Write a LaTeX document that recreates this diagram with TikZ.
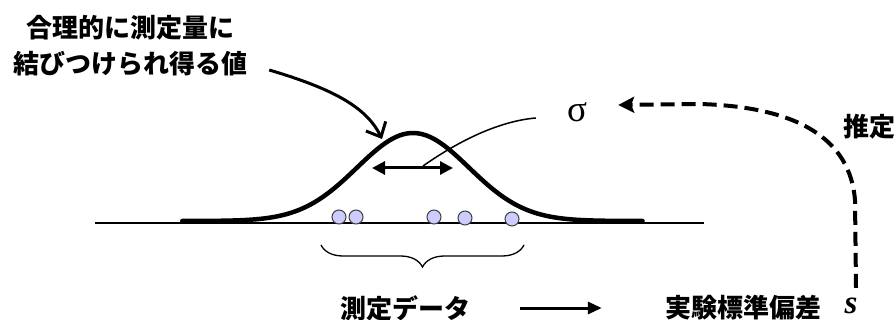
\documentclass[tikz,border=0pt]{standalone}
\usepackage{fontspec}
\newfontfamily\jpfont{Noto Sans CJK JP}
\newfontfamily\greekfont{Liberation Serif}
\usepackage{xcolor}
\definecolor{dotfill}{RGB}{204,204,255}
\usepackage{tikz}
\usetikzlibrary{arrows.meta,decorations.pathreplacing}

\begin{document}
\begin{tikzpicture}[
      x=1pt,y=-1pt,
      jp/.style={font=\fontsize{26}{36}\selectfont\jpfont\bfseries,
                 inner sep=0pt,align=center},
      greek/.style={font=\fontsize{37}{37}\selectfont\greekfont,inner sep=0pt},
      dot/.style={circle,draw=black!75,fill=dotfill,line width=1pt,
                  minimum size=14pt,inner sep=0pt},
      bell/.style={line width=4.5pt,line cap=round},
      axis/.style={line width=1.5pt},
      arr/.style={-{Triangle[length=14pt,width=12pt]},line width=3pt},
      dblarr/.style={{Triangle[length=13pt,width=13pt]}-{Triangle[length=13pt,width=13pt]},
                     line width=3pt},
      callout/.style={-{Straight Barb[length=12pt,width=22pt]},line width=3pt},
      dasharr/.style={-{Stealth[length=16pt,width=16pt,inset=3pt]},line width=4pt,
                      dash pattern=on 14pt off 7pt},
      lead/.style={line width=1.5pt},
      brace/.style={decorate,decoration={brace,mirror,amplitude=22pt},line width=1.3pt}
    ]
      \useasboundingbox (0,0) rectangle (896,320);
      % texts
      \node[jp] (lbl) at (130,46) {合理的に測定量に\\結びつけられ得る値};
      \node[jp] (data) at (405,308) {測定データ};
      \node[jp] (std) at (743,308) {実験標準偏差};
      \node[font=\fontsize{33}{33}\selectfont\greekfont\bfseries\itshape,inner sep=0pt]
            (s) at (851,306) {s};
      \node[greek] (sig) at (577,112) {σ};
      \node[jp] (est) at (869,127) {推定};
      % distribution
      \draw[axis] (95,223) -- (704,223);
      \draw[bell] plot[domain=-4.12:4.1,samples=120,smooth]
            ({413+56*\x},{221-88*exp(-\x*\x/2)});
      \foreach \x/\y [count=\i] in {339/217,356/217,434/217,465/218,512/219}
        \node[dot] (d\i) at (\x,\y) {};
      \draw[brace] (321,245) -- (524,245);
      \coordinate (wl) at (372,168);
      \coordinate (wr) at (453,168);
      \coordinate (wm) at (423,166);
      \coordinate (peak) at (382,139);
      \draw[dblarr] (wl) -- (wr);
      \draw[lead] (wm) .. controls (460,140) and (500,121) .. ([xshift=-31pt,yshift=-6pt]sig.west);
      \draw[callout] ([xshift=22pt,yshift=-24pt]lbl.east) .. controls (330,88) and (366,106) .. (peak);
      \draw[arr] ([xshift=50pt]data.east) -- ([xshift=-63pt]std.west);
      \draw[dasharr] ([shift={(5,-10)}]s.north) -- (855,200)
            .. controls (850,140) and (800,107) .. (700,104) -- ([shift={(31,-7)}]sig.east);
    \end{tikzpicture}
\end{document}
